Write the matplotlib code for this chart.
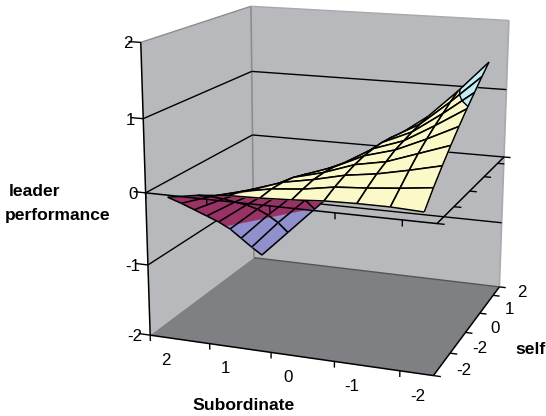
import numpy as np, matplotlib
matplotlib.use('Agg')
import matplotlib.pyplot as plt
from mpl_toolkits.mplot3d import proj3d
from mpl_toolkits.mplot3d.art3d import Poly3DCollection, Line3DCollection
plt.rcParams['font.family']=['Liberation Sans','DejaVu Sans']
W,H=546,416
sub_vals=np.array([2,1.5,1,.5,0,-.5,-1,-1.5,-2])
self_vals=np.array([-2,-1.5,-1,-.5,0,.5,1,1.5,2])
# leader performance, one list per Subordinate value, self running from -2 to 2
z_sub_p20=[-.09,-.28,-.48,-.68,-.88,-1.10,-1.36,-1.62,-1.87]
z_sub_p15=[-.02,-.14,-.28,-.43,-.58,-.75,-.95,-1.18,-1.45]
z_sub_p10=[.02,-.03,-.10,-.20,-.30,-.42,-.58,-.78,-1.03]
z_sub_p05=[.03,.05,.04,.01,-.05,-.13,-.25,-.40,-.60]
z_sub_00=[.05,.09,.12,.12,.10,.06,-.01,-.10,-.20]
z_sub_m05=[.08,.16,.22,.27,.30,.31,.31,.29,.25]
z_sub_m10=[.09,.19,.28,.35,.42,.46,.50,.53,.56]
z_sub_m15=[.09,.23,.37,.50,.61,.71,.80,.89,.97]
z_sub_m20=[.07,.28,.47,.65,.82,.98,1.13,1.28,1.42]
Z=np.array([z_sub_p20,z_sub_p15,z_sub_p10,z_sub_p05,z_sub_00,z_sub_m05,z_sub_m10,z_sub_m15,z_sub_m20]).T
z_ticks=[2,1,0,-1,-2]
sub_labels=['2','1','0','-1','-2']
self_labels=['-2','-2','0','1','2']
band_edges=[-2,-1,0,1,2]
band_cols=['#8f90cc','#993366','#fbf9c8','#c4ecf4']
fig=plt.figure(figsize=(W/100,H/100),dpi=100)
ax=fig.add_axes([0.1,0.1,0.5,0.5*W/H],projection='3d',computed_zorder=False)
L=2.25
ax.set_xlim(L,-L);ax.set_ylim(-L,L);ax.set_zlim(-2,2)
ax.view_init(elev=14.7796,azim=-70.1485,roll=-0.2058)
ax.set_proj_type('persp',focal_length=float(np.exp(-0.5956)))
ax.set_box_aspect((4,4*np.exp(-.1064),4*np.exp(.0053)))
ax.set_axis_off()
a,cx,cy=2527.076,333.831,174.026
vl=ax.viewLim
side=a*(vl.x1-vl.x0)
u0=(0-vl.x0)/(vl.x1-vl.x0);v0=(0-vl.y0)/(vl.y1-vl.y0)
ax.set_position([(cx-u0*side)/W,((H-cy)-v0*side)/H,side/W,side/H])
ax.patch.set_alpha(0)
M=ax.get_proj()
zo=[0]
def poly(verts,fc,ec='none',lw=0):
    zo[0]+=1
    ax.add_collection3d(Poly3DCollection([verts],facecolors=fc,edgecolors=ec,linewidths=lw,zorder=zo[0]),autolim=False)
def seg(p,q,c='k',lw=1.0):
    zo[0]+=1
    ax.add_collection3d(Line3DCollection([[p,q]],colors=c,linewidths=lw,zorder=zo[0]),autolim=False)
WALL='#b8b9bc';FLOOR='#7f8084';EDGE='#8c8d90'
poly([(L,-L,-2),(L,L,-2),(L,L,2),(L,-L,2)],WALL)
poly([(L,L,-2),(-L,L,-2),(-L,L,2),(L,L,2)],WALL)
poly([(L,-L,-2),(-L,-L,-2),(-L,L,-2),(L,L,-2)],FLOOR)
seg((L,L,-2),(L,L,2),EDGE,1.2)
seg((-L,L,-2),(-L,L,2),'#a8a9ac',1.2)
seg((L,-L,2),(L,L,2),EDGE,1)
seg((L,L,2),(-L,L,2),'#a8a9ac',1)
seg((L,L,-2),(-L,L,-2),'#555555',1)
for zv in (-1,0,1):
    seg((L,-L,zv),(L,L,zv),'k',1);seg((L,L,zv),(-L,L,zv),'k',1)
def clip(poly_,lo,hi):
    def c(P,f,lim):
        out=[]
        for i in range(len(P)):
            A=P[i];B=P[(i+1)%len(P)]
            ia=f(A[2]);ib=f(B[2])
            if ia:out.append(A)
            if ia!=ib:
                t=(lim-A[2])/(B[2]-A[2]);out.append(tuple(A[k]+t*(B[k]-A[k]) for k in range(3)))
        return out
    P=c(poly_,lambda z:z>=lo,lo)
    if P:P=c(P,lambda z:z<=hi,hi)
    return P
cells=[]
for j in range(8):
    for i in range(8):
        q=[(sub_vals[i],self_vals[j],Z[j,i]),(sub_vals[i+1],self_vals[j],Z[j,i+1]),(sub_vals[i+1],self_vals[j+1],Z[j+1,i+1]),(sub_vals[i],self_vals[j+1],Z[j+1,i])]
        xs,ys,zs=zip(*q)
        _,_,tz=proj3d.proj_transform(np.array(xs),np.array(ys),np.array(zs),M)
        cells.append((float(np.mean(tz)),q))
cells.sort(key=lambda c:-c[0])
for _,q in cells:
    for k,col in enumerate(band_cols):
        P=clip(q,band_edges[k],band_edges[k+1])
        if len(P)>=3:poly(P,col,col,0.2)
    if min(p[2] for p in q)<1<max(p[2] for p in q):
        P=clip(q,1,2)
        on=[p for p in P if abs(p[2]-1)<1e-9]
        if len(on)>=2:seg(on[0],on[1],'k',1)
    for n in range(4):
        seg(q[n],q[(n+1)%4],'k',1.1)
def ticks(zv,dS=.11,dz=.085):
    seg((L,-L,zv),(-L,-L,zv),'k',1.1);seg((-L,-L,zv),(-L,L,zv),'k',1.1)
    for s in (2.25,1.25,.25,-.75,-1.75):
        seg((s,-L,zv),(s,-L,zv-dz),'k',1)
    for y in (-2.25,-1.25,-.25,.75,1.75,2.25):
        seg((-L,y,zv),(-L-dS,y,zv),'k',1)
ticks(-2);ticks(0)
seg((L,-L,-2),(L,-L,2),'k',1.1)
for zv in z_ticks:
    seg((L,-L,zv),(L+.2,-L,zv),'k',1)
def P2(x,y,z):
    vx,vy,_=proj3d.proj_transform(np.array([x],float),np.array([y],float),np.array([z],float),M)
    return float(vx[0]),float(vy[0])
def lab(t,x,y,z,dx,dy,ha='center'):
    ax.annotate(t,xy=P2(x,y,z),xycoords='data',xytext=(dx*.72,dy*.72),textcoords='offset points',ha=ha,va='center',fontsize=12.2,annotation_clip=False)
for zv in z_ticks:
    lab(str(zv),L,-L,zv,-8,-1.5,'right')
for t,s in zip(sub_labels,[2,1,0,-1,-2]):
    lab(t,s,-L,-2,1,-23)
for t,y in zip(self_labels,[-2,-1,0,1,2]):
    lab(t,-L,y,-2,26,-1)
def T(t,x,y,**k):
    fig.text(x/W,1-y/H,t,fontsize=12.6,fontweight='bold',va='center',**k)
T('leader',9,191);T('performance',5,215);T('Subordinate',244,405,ha='center');T('self',530,350,ha='center')
fig.savefig('out.png')
